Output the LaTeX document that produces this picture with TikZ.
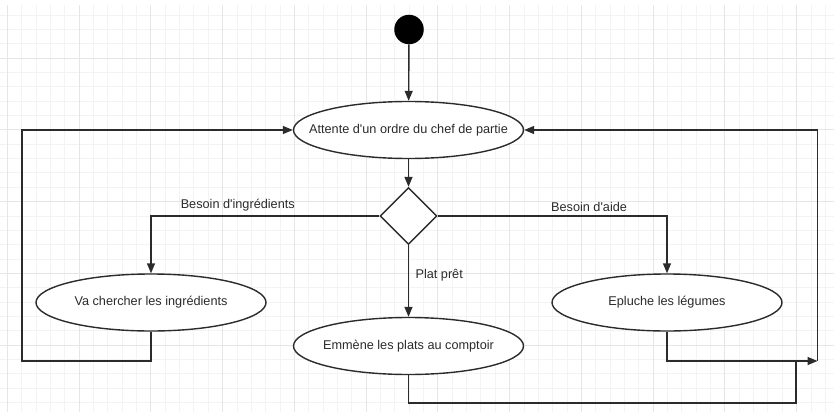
\documentclass[tikz,border=0pt]{standalone}
\usepackage{fontspec}
\setmainfont{Liberation Sans}[Ligatures=TeXOff]
\usetikzlibrary{shapes.geometric,arrows.meta}
\definecolor{ink}{HTML}{2B2B2B}
\definecolor{minorgrid}{HTML}{F3F3F3}
\definecolor{majorgrid}{HTML}{E6E6E6}

\begin{document}
\begin{tikzpicture}[x=1pt,y=-1pt,font=\fontsize{12.7}{15}\selectfont,text=ink,
        act/.style={ellipse,draw=ink,line width=1.4pt,fill=white,minimum width=230pt,minimum height=57pt,inner sep=0pt},
        choice/.style={diamond,draw=ink,line width=1.4pt,fill=white,minimum width=57pt,minimum height=57pt,inner sep=0pt},
        init/.style={circle,fill=black,minimum size=29.5pt,inner sep=0pt},
        flow/.style={draw=ink,line width=1.4pt,-{Triangle[length=10pt,width=8pt]}},
        link/.style={draw=ink,line width=1.4pt}]
        \useasboundingbox (0,0) rectangle (834,412);
        % grid
        \foreach \i in {0,...,57} \draw[minorgrid,line width=0.8pt] ({7.3+14.35*\i},5) -- ({7.3+14.35*\i},412);
        \foreach \j in {0,...,27} \draw[minorgrid,line width=0.8pt] (0,{15+14.35*\j}) -- (834,{15+14.35*\j});
        \foreach \i in {0,...,11} \draw[majorgrid,line width=0.8pt] ({7.3+71.75*\i},5) -- ({7.3+71.75*\i},412);
        \foreach \j in {0,...,4} \draw[majorgrid,line width=0.8pt] (0,{58.1+71.75*\j}) -- (834,{58.1+71.75*\j});
        % states
        \node[init](s) at (409,29.5) {};
        \node[act,label=center:{Attente d'un ordre du chef de partie}](att) at (408.5,130) {};
        \node[choice](dec) at (408.5,216) {};
        \node[act,label=center:{Va chercher les ingrédients}](va) at (151,302.5) {};
        \node[act,label=center:{Emmène les plats au comptoir}](emm) at (408.5,346) {};
        \node[act,label=center:{Epluche les légumes}](ep) at (667,302.5) {};
        \coordinate(l) at (22,361);
        \coordinate(j) at (817.5,361);
        \coordinate(m) at (796,361);
        \coordinate(b) at (796,403);
        % transitions
        \draw[flow](s)--(att);
        \draw[flow](att)--(dec);
        \draw[flow](dec.west) -| (va.north) node[pos=0.31,above,inner sep=4pt]{Besoin d'ingrédients};
        \draw[flow](dec.east) -| (ep.north) node[pos=0.33,above,inner sep=4pt]{Besoin d'aide};
        \draw[flow](dec)--(emm) node[pos=0.42,right,xshift=3pt]{Plat prêt};
        \draw[flow](va.south) |- (l) |- (att.west);
        \draw[flow](ep.south) |- (j);
        \draw[flow](j) |- (att.east);
        \draw[link](emm.south) |- (b) -- (m);
\end{tikzpicture}
\end{document}
